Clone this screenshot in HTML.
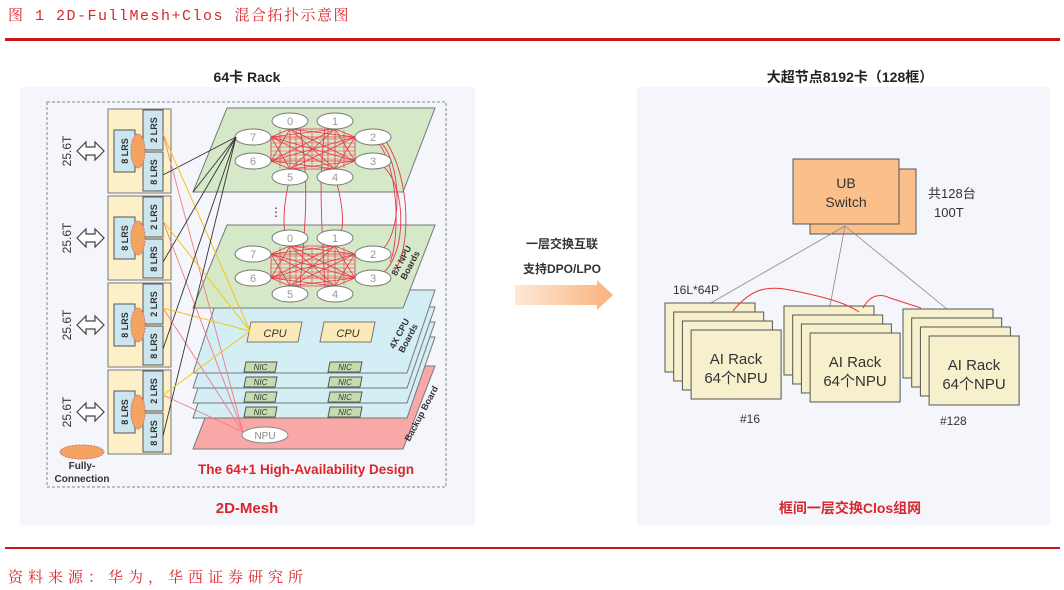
<!DOCTYPE html>
<html><head><meta charset="utf-8"><style>
html,body{margin:0;padding:0;background:#fff;}
svg{display:block;}
text{font-family:"Liberation Sans","Noto Sans CJK SC",sans-serif;}
</style></head><body>
<svg id="s" width="1064" height="590" viewBox="0 0 1064 590" xmlns="http://www.w3.org/2000/svg">
<defs>
<linearGradient id="ag" x1="0" x2="1" y1="0" y2="0"><stop offset="0" stop-color="#fde9d8"/><stop offset="1" stop-color="#f9b27a"/></linearGradient>
</defs>
<text x="8" y="20" font-size="15" fill="#d9262c" letter-spacing="1.5" style="font-family:'Liberation Mono','Noto Serif CJK SC',monospace">图 1 2D-FullMesh+Clos 混合拓扑示意图</text>
<rect x="5" y="38" width="1055" height="3" fill="#c8161d"/>
<rect x="5" y="547" width="1055" height="2" fill="#c8161d"/>
<text x="8" y="582" font-size="15" fill="#d9262c" letter-spacing="5" style="font-family:'Liberation Mono','Noto Serif CJK SC',monospace">资料来源：华为，华西证券研究所</text>

<!-- left panel -->
<text x="247" y="82" font-size="14" font-weight="bold" text-anchor="middle" fill="#222">64卡 Rack</text>
<rect x="20" y="87" width="455" height="438" fill="#f4f6fb"/>
<rect x="47" y="102" width="399" height="385" fill="none" stroke="#888" stroke-dasharray="3,2"/>
<g id="racks"></g>
<ellipse cx="82" cy="452" rx="22" ry="7" fill="#f4a460" stroke="#c77" stroke-dasharray="2,1"/>
<text x="82" y="469" font-size="10" font-weight="bold" text-anchor="middle" fill="#333">Fully-</text>
<text x="82" y="482" font-size="10" font-weight="bold" text-anchor="middle" fill="#333">Connection</text>

<!-- planes -->
<polygon points="193,449 403,449 435,366 225,366" fill="#f9a8a8" stroke="#777"/>
<polygon points="193,418 407,418 435,337 220,337" fill="#d3eef4" stroke="#777"/>
<polygon points="193,403 407,403 435,322 220,322" fill="#d3eef4" stroke="#777"/>
<polygon points="193,388 407,388 435,307 220,307" fill="#d3eef4" stroke="#777"/>
<polygon points="193,373 407,373 435,290 220,290" fill="#d3eef4" stroke="#777"/>
<polygon points="193,308 403,308 435,225 227,225" fill="#d5e8c8" stroke="#777"/>
<polygon points="193,192 403,192 435,108 227,108" fill="#d5e8c8" stroke="#777"/>
<text x="270" y="216" font-size="12" fill="#333">⋮</text>
<text transform="translate(404,262) rotate(-62)" font-size="9" font-weight="bold" fill="#333" text-anchor="middle">8X NPU<tspan x="0" dy="10">Boards</tspan></text>
<text transform="translate(402,335) rotate(-62)" font-size="9" font-weight="bold" fill="#333" text-anchor="middle">4X CPU<tspan x="0" dy="10">Boards</tspan></text>
<text transform="translate(424,415) rotate(-62)" font-size="9" font-weight="bold" fill="#333" text-anchor="middle">Backup Board</text>
<g id="mesh"></g>
<g id="nics"></g>
<polygon points="247,342 298,342 302,322 251,322" fill="#fbeab5" stroke="#777"/>
<text x="275" y="337" font-size="11" font-style="italic" text-anchor="middle" fill="#333">CPU</text>
<polygon points="320,342 371,342 375,322 324,322" fill="#fbeab5" stroke="#777"/>
<text x="348" y="337" font-size="11" font-style="italic" text-anchor="middle" fill="#333">CPU</text>
<g id="links"></g>
<ellipse cx="265" cy="435" rx="23" ry="8" fill="#fff" stroke="#888"/>
<text x="265" y="439" font-size="10" text-anchor="middle" fill="#888">NPU</text>
<text x="306" y="474" font-size="13.5" font-weight="bold" text-anchor="middle" fill="#d9262c">The 64+1 High-Availability Design</text>
<text x="247" y="513" font-size="15" font-weight="bold" text-anchor="middle" fill="#d9262c">2D-Mesh</text>

<!-- middle arrow -->
<text x="562" y="248" font-size="12" font-weight="bold" text-anchor="middle" fill="#333">一层交换互联</text>
<text x="562" y="273" font-size="12" font-weight="bold" text-anchor="middle" fill="#333">支持DPO/LPO</text>
<polygon points="515,285 597,285 597,280 613,295 597,310 597,305 515,305" fill="url(#ag)"/>

<!-- right panel -->
<text x="850" y="82" font-size="14" font-weight="bold" text-anchor="middle" fill="#222">大超节点8192卡（128框）</text>
<rect x="637" y="87" width="413" height="438" fill="#f4f6fb"/>
<rect x="810" y="169" width="106" height="65" fill="#fbbf8a" stroke="#555"/>
<rect x="793" y="159" width="106" height="65" fill="#fbbf8a" stroke="#555"/>
<text x="846" y="188" font-size="14" text-anchor="middle" fill="#333">UB</text>
<text x="846" y="207" font-size="14" text-anchor="middle" fill="#333">Switch</text>
<text x="928" y="198" font-size="13" fill="#333">共128台</text>
<text x="934" y="217" font-size="13" fill="#333">100T</text>
<g stroke="#888" stroke-width="0.8"><line x1="845" y1="226" x2="709" y2="304"/><line x1="845" y1="226" x2="830" y2="306"/><line x1="845" y1="226" x2="947" y2="309"/></g>
<text x="673" y="294" font-size="12" fill="#333">16L*64P</text>
<g id="stacks"></g>
<path d="M733,311 C750,290 765,285 790,290 C820,296 845,302 859,312" fill="none" stroke="#e33" stroke-width="1"/>
<path d="M863,308 C870,295 880,293 890,298 L921,308" fill="none" stroke="#e33" stroke-width="1"/>
<text x="740" y="423" font-size="12" fill="#333">#16</text>
<text x="940" y="425" font-size="12" fill="#333">#128</text>
<text x="850" y="513" font-size="14" font-weight="bold" text-anchor="middle" fill="#d9262c">框间一层交换Clos组网</text>
</svg>
<script>
var NS="http://www.w3.org/2000/svg";
function el(p,t,a,txt){var e=document.createElementNS(NS,t);for(var k in a)e.setAttribute(k,a[k]);if(txt)e.textContent=txt;document.getElementById(p).appendChild(e);return e;}
var ry=[109,196,283,370];
ry.forEach(function(y){
 el('racks','rect',{x:108,y:y,width:63,height:84,fill:'#fdf0c8',stroke:'#777'});
 el('racks','rect',{x:114,y:y+21,width:21,height:42,fill:'#cce6ef',stroke:'#555'});
 el('racks','rect',{x:143,y:y+1,width:20,height:40,fill:'#cce6ef',stroke:'#555'});
 el('racks','rect',{x:143,y:y+43,width:20,height:39,fill:'#cce6ef',stroke:'#555'});
 el('racks','text',{transform:'translate(128,'+(y+42)+') rotate(-90)','font-size':9,'font-weight':'bold','text-anchor':'middle',fill:'#333'},'8 LRS');
 el('racks','text',{transform:'translate(157,'+(y+21)+') rotate(-90)','font-size':9,'font-weight':'bold','text-anchor':'middle',fill:'#333'},'2 LRS');
 el('racks','text',{transform:'translate(157,'+(y+63)+') rotate(-90)','font-size':9,'font-weight':'bold','text-anchor':'middle',fill:'#333'},'8 LRS');
 el('racks','ellipse',{cx:138,cy:y+42,rx:7,ry:17,fill:'#f4a460',stroke:'#c77','stroke-dasharray':'2,1'});
 el('racks','text',{transform:'translate(71,'+(y+42)+') rotate(-90)','font-size':12,'text-anchor':'middle',fill:'#333'},'25.6T');
 el('racks','path',{d:'M77,'+(y+42)+' l9,-9 v5 h9 v-5 l9,9 l-9,9 v-5 h-9 v5 z',fill:'#fff',stroke:'#444','stroke-width':1.2});
});
[362,377,392,407].forEach(function(y){
 [[244,277],[328,362]].forEach(function(c){
  el('nics','polygon',{points:(c[0])+','+(y+10)+' '+(c[1]-2)+','+(y+10)+' '+c[1]+','+y+' '+(c[0]+2)+','+y,fill:'#c5dcb0',stroke:'#555'});
  el('nics','text',{x:(c[0]+c[1])/2,y:y+8,'font-size':8,'font-style':'italic','text-anchor':'middle',fill:'#333'},'NIC');
 });
});
[0,117].forEach(function(d){
 var pts=[[271,137],[271,161],[355,137],[355,161],[290,129],[335,129],[290,169],[335,169]];
 for(var i=0;i<8;i++)for(var j=i+1;j<8;j++)el('mesh','line',{x1:pts[i][0],y1:pts[i][1]+d,x2:pts[j][0],y2:pts[j][1]+d,stroke:'#e8374a','stroke-width':0.8});
 for(var k=0;k<6;k++){el('mesh','line',{x1:271,y1:139+k*4+d,x2:355,y2:139+k*4+d,stroke:'#e8374a','stroke-width':0.6});}
 for(var k=0;k<5;k++){el('mesh','line',{x1:280+k*16,y1:130+d,x2:280+k*16,y2:168+d,stroke:'#e8374a','stroke-width':0.6});}
});
['M290,177 C282,210 282,240 290,236','M335,177 C345,210 345,240 335,236','M300,129 C310,180 305,230 300,286','M325,129 C318,180 322,230 325,286',
 'M373,137 C405,150 405,250 373,254','M373,161 C410,170 410,270 373,278','M373,137 C400,160 400,240 390,262','M385,140 C412,180 410,250 395,270'].forEach(function(d){
 el('mesh','path',{d:d,fill:'none',stroke:'#e8374a','stroke-width':0.9});
});
[0,117].forEach(function(d){
 [[290,121,'0'],[335,121,'1'],[253,137,'7'],[373,137,'2'],[253,161,'6'],[373,161,'3'],[290,177,'5'],[335,177,'4']].forEach(function(n){
  el('mesh','ellipse',{cx:n[0],cy:n[1]+d,rx:18,ry:8,fill:'#fff',stroke:'#777'});
  el('mesh','text',{x:n[0],y:n[1]+d+4,'font-size':11,'text-anchor':'middle',fill:'#999'},n[2]);
 });
});
ry.forEach(function(y){
 el('links','line',{x1:163,y1:y+66,x2:236,y2:137,stroke:'#333','stroke-width':0.9});
 el('links','line',{x1:163,y1:y+25,x2:250,y2:331,stroke:'#f5c518','stroke-width':1});
 el('links','line',{x1:163,y1:y+25,x2:243,y2:432,stroke:'#f27a86','stroke-width':0.9});
});
el('links','line',{x1:193,y1:192,x2:236,y2:137,stroke:'#333','stroke-width':0.9});
[[665,303],[784,306],[903,309]].forEach(function(g){
 for(var i=0;i<4;i++){
  var x=g[0]+i*8.7,y=g[1]+i*9;
  el('stacks','rect',{x:x,y:y,width:90,height:69,fill:'#f7f0cc',stroke:'#555'});
 }
 var cx=g[0]+26+45;
 el('stacks','text',{x:cx,y:g[1]+61,'font-size':15,'text-anchor':'middle',fill:'#333'},'AI Rack');
 el('stacks','text',{x:cx,y:g[1]+80,'font-size':15,'text-anchor':'middle',fill:'#333'},'64个NPU');
});
</script>
</body></html>
